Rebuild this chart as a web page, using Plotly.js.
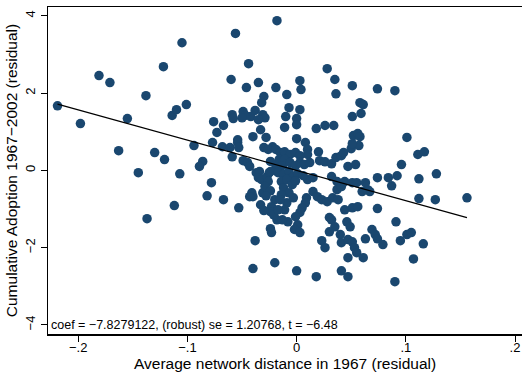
<!DOCTYPE html>
<html>
<head>
<meta charset="utf-8">
<script src="https://cdn.plot.ly/plotly-3.0.1.min.js"></script>
<style>html,body{margin:0;padding:0;background:#fff;}#chart{width:522px;height:372px;}</style>
</head>
<body>
<div id="chart"></div>
<script>
// Average network distance in 1967 (residual)
var distance = [
-0.219,-0.198,-0.181,-0.171,-0.155,-0.163,-0.145,-0.138,-0.130,-0.121,
-0.114,-0.110,-0.122,-0.105,-0.101,-0.112,-0.137,-0.107,-0.094,-0.056,
-0.044,-0.060,-0.035,-0.046,-0.018,-0.030,-0.032,-0.038,-0.049,-0.047,
-0.050,-0.059,-0.058,-0.042,-0.031,-0.029,-0.035,-0.076,-0.067,-0.073,
-0.033,-0.040,-0.028,-0.054,-0.077,-0.068,-0.061,-0.054,-0.053,-0.059,
-0.049,-0.045,-0.043,-0.086,-0.089,-0.078,-0.082,-0.067,-0.053,-0.041,
-0.040,-0.043,-0.031,-0.037,-0.034,-0.035,-0.032,-0.027,-0.025,-0.026,
-0.038,-0.040,-0.020,-0.024,-0.023,-0.018,0.028,0.035,0.036,0.003,
0.004,-0.009,-0.019,0.051,0.074,0.090,0.058,0.061,0.059,-0.007,
0.003,-0.010,0.000,0.000,-0.011,0.051,0.018,0.026,0.034,0.052,
0.056,0.058,0.057,0.050,0.101,0.111,0.117,0.096,0.074,0.084,
0.087,0.092,0.112,0.128,0.067,0.112,0.127,0.156,0.074,0.091,
0.069,0.072,0.074,0.079,0.095,0.101,0.105,0.116,0.107,0.090,
-0.030,-0.022,0.000,0.008,0.010,0.010,0.020,0.021,0.026,0.032,
0.036,0.041,0.043,0.051,0.047,0.054,0.032,0.037,0.010,0.015,
0.044,0.051,0.055,0.063,0.065,0.060,0.015,0.019,0.023,0.028,
0.033,0.038,0.009,0.008,-0.009,-0.011,0.005,0.003,0.044,0.051,
0.056,0.030,0.032,-0.008,0.001,-0.002,0.003,0.035,0.030,0.046,
0.049,0.040,0.023,0.026,0.041,0.047,0.051,0.053,0.055,0.061,
0.047,0.063,0.000,0.018,0.041,0.047,-0.001,-0.013,-0.026,-0.019,
-0.015,-0.011,-0.006,-0.001,0.003,-0.016,-0.011,-0.024,-0.019,-0.013,
-0.006,-0.001,0.003,0.007,0.012,-0.024,-0.017,-0.012,-0.007,-0.003,
0.001,0.006,-0.014,-0.009,-0.004,-0.001,-0.012,-0.007,-0.014,-0.003,
-0.029,-0.024,-0.020,-0.023,-0.024,-0.021,-0.017,-0.028,-0.033,-0.030,
0.037,0.041,-0.015
];
// Cumulative Adoption 1967-2002 (residual)
var adoption = [
1.67,1.21,2.45,2.27,1.34,0.51,-0.06,1.93,0.46,0.28,
1.42,1.57,2.68,3.30,1.70,-0.91,-1.25,-0.09,0.64,3.54,
2.76,2.35,2.27,2.14,3.87,1.91,1.75,1.55,1.52,1.42,
1.36,1.44,1.34,1.39,1.44,1.36,1.31,1.26,1.16,0.98,
1.05,0.87,0.85,0.79,0.72,0.61,0.59,0.72,0.59,0.35,
0.25,0.20,0.10,0.23,0.10,-0.32,-0.66,-0.76,-0.97,-0.58,
-0.68,-0.68,-0.58,-0.06,-0.03,-0.19,-0.24,-0.16,-0.06,-0.29,
-1.82,-2.54,-2.39,-1.51,-1.61,-1.28,2.63,2.35,1.98,2.32,
2.09,1.96,2.14,2.19,2.11,2.06,1.75,1.70,1.47,1.62,
1.57,1.39,1.34,1.18,1.11,1.39,1.08,1.16,1.16,0.90,
0.95,0.87,0.64,0.56,0.85,0.41,0.48,0.15,-0.19,-0.19,
-0.40,-0.14,-0.22,-0.09,-0.55,-0.73,-0.76,-0.71,-0.99,-1.33,
-1.53,-1.66,-1.77,-1.92,-1.82,-1.66,-1.61,-1.90,-2.29,-2.88,
0.59,0.61,0.82,0.72,0.54,0.41,0.48,0.25,0.22,0.17,
0.33,0.38,0.46,0.69,0.10,0.15,-0.16,-0.29,-0.24,-0.19,
-0.29,-0.32,-0.32,-0.32,-0.50,-0.55,-0.55,-0.68,-0.76,-0.81,
-0.71,-0.76,-0.71,-0.84,-0.84,-1.02,-0.97,-1.09,-1.02,-0.97,
-0.94,-1.22,-1.28,-1.33,-1.41,-1.53,-1.61,-1.46,-1.59,-1.33,
-1.46,-1.66,-1.82,-2.00,-1.87,-1.79,-1.85,-2.00,-2.13,-2.26,
-2.26,-1.77,-2.60,-2.75,-2.60,-2.75,-1.20,-1.28,0.54,0.54,
0.46,0.48,0.41,0.46,0.38,0.28,0.28,0.23,0.12,0.12,
0.20,0.12,0.20,0.15,0.20,-0.03,-0.06,-0.11,-0.03,-0.16,
-0.09,-0.14,-0.29,-0.24,-0.37,-0.27,-0.45,-0.58,-0.63,-0.71,
-0.42,-0.53,-0.76,-0.94,-1.07,-1.15,-1.02,-0.66,-0.89,-1.04,
-0.50,-0.42,-0.76
];
var coef = -7.8279122;
var robustSE = 1.20768;
var tStat = -6.48;
var xTickVals = [-0.2, -0.1, 0, 0.1, 0.2];
var xTickText = ['\u2212.2', '\u2212.1', '0', '.1', '.2'];
var yTickVals = [-4, -2, 0, 2, 4];
var yTickText = ['\u22124', '\u22122', '0', '2', '4'];
var xTitle = 'Average network distance in 1967 (residual)';
var yTitle = 'Cumulative Adoption 1967\u22122002 (residual)';
var statText = 'coef = \u22127.8279122, (robust) se = 1.20768, t = \u22126.48';

var xMin = Math.min.apply(null, distance);
var xMax = Math.max.apply(null, distance);

var font = 'Liberation Sans, Arial, Helvetica, sans-serif';
var data = [
  {
    type: 'scatter', mode: 'markers', x: distance, y: adoption,
    marker: {color: '#1a476f', size: 9.5, line: {width: 0}},
    hoverinfo: 'none', showlegend: false
  },
  {
    type: 'scatter', mode: 'lines', x: [xMin, xMax], y: [coef * xMin, coef * xMax],
    line: {color: '#000000', width: 1.2}, hoverinfo: 'none', showlegend: false
  }
];
var layout = {
  width: 522, height: 372,
  margin: {l: 48, r: 0, t: 7, b: 38},
  paper_bgcolor: '#ffffff', plot_bgcolor: '#ffffff',
  font: {family: font, color: '#000000'},
  xaxis: {
    range: [-0.2277, 0.2064], showgrid: false, zeroline: false,
    showline: true, linecolor: '#000000', linewidth: 1.5, mirror: true,
    ticks: 'outside', ticklen: 6, tickwidth: 1, tickcolor: '#000000',
    ticklabelstandoff: -5,
    tickvals: xTickVals, ticktext: xTickText, tickfont: {size: 13, family: font}
  },
  yaxis: {
    range: [-4.233, 4.225], showgrid: false, zeroline: false,
    showline: true, linecolor: '#000000', linewidth: 1.5,
    ticks: 'outside', ticklen: 6, tickwidth: 1, tickcolor: '#000000',
    tickvals: yTickVals, ticktext: yTickText, tickangle: -90, tickfont: {size: 13, family: font},
    title: {text: yTitle, font: {size: 15.5, family: font}, standoff: 2}
  },
  annotations: [
    {
      xref: 'paper', yref: 'paper', x: 0.003, y: 0.0, xanchor: 'left', yanchor: 'bottom',
      text: statText, showarrow: false, font: {size: 12.5, family: font, color: '#000000'}
    },
    {
      xref: 'paper', yref: 'paper', x: 0.5, y: 0.0, xanchor: 'center', yanchor: 'middle', yshift: -29,
      text: xTitle, showarrow: false, font: {size: 15.5, family: font, color: '#000000'}
    }
  ]
};
Plotly.newPlot('chart', data, layout, {displayModeBar: false, staticPlot: true});
</script>
</body>
</html>
